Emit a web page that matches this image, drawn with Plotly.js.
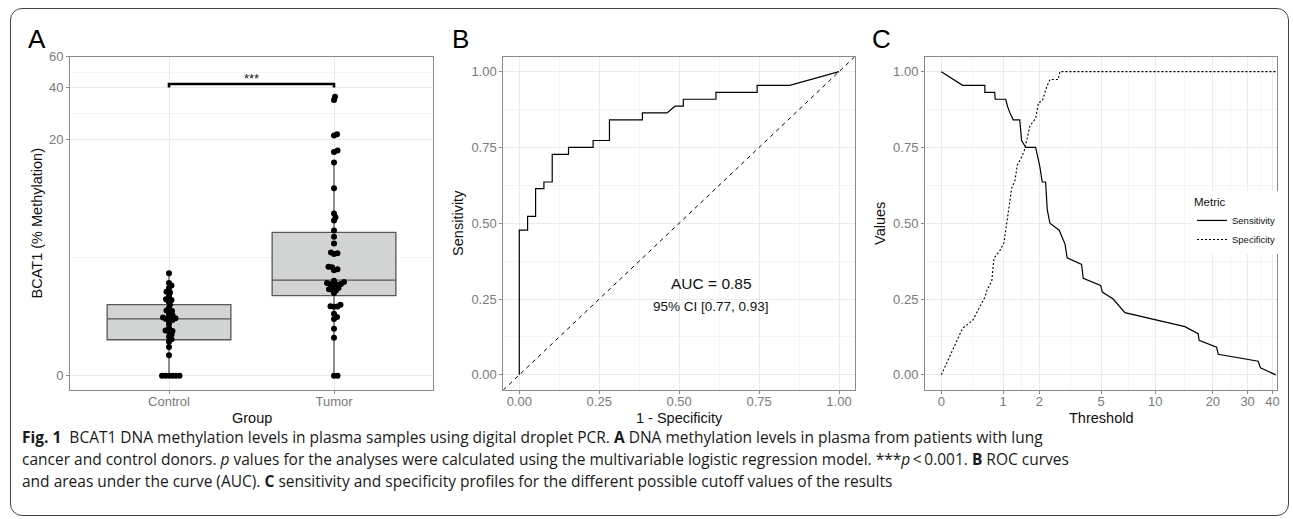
<!DOCTYPE html>
<html><head><meta charset="utf-8">
<script src="https://cdn.plot.ly/plotly-3.0.1.min.js"></script>
<style>
html,body{margin:0;padding:0;background:#fff;}
#wrap{position:relative;width:1293px;height:519px;overflow:hidden;}
#chart{position:absolute;left:0;top:0;width:1293px;height:519px;}
#frame{position:absolute;left:10px;top:8px;width:1277px;height:506px;border:1px solid #444;border-radius:12px;pointer-events:none;}
</style></head><body>
<div id="wrap"><div id="chart"></div><div id="frame"></div></div>
<script>
// ---------------- data ----------------
const groups = ['Control', 'Tumor'];
const controlValues = [0, 0, 0, 0, 0, 0, 0.3, 0.45, 0.55, 0.6, 0.65, 0.7, 0.77, 0.78, 0.79, 0.85, 0.95,
  1.04, 1.05, 1.08, 1.1, 1.12, 1.15, 1.18, 1.25, 1.3, 1.32, 1.4, 1.5, 1.6, 1.65, 1.68, 1.8, 1.92, 1.95,
  2.1, 2.2, 2.3, 2.75];
const tumorValues = [0, 0, 0.63, 0.83, 1.08, 1.13, 1.22, 1.43, 1.44, 1.45, 1.5, 1.9, 2.0, 2.02, 2.05, 2.1,
  2.22, 2.24, 2.25, 2.26, 2.3, 2.35, 2.4, 2.9, 2.95, 3.05, 3.08, 3.8, 3.85, 3.9, 4.5, 5.0, 5.5, 6.4, 6.7,
  7.1, 10.2, 14.6, 16.9, 17.2, 21.1, 21.5, 34, 35.5];
const boxQ1 = [0.59, 1.81];
const boxMedian = [1.08, 2.43];
const boxQ3 = [1.50, 5.34];
const boxLowerFence = [0, 0];
const boxUpperFence = [2.75, 14.6];
const methylationTicks = [0, 20, 40, 60];
const bracketLevel = 42;
const bracketDrop = 40;
const significanceLabel = '***';

const rocFpr = [0, 0, 0.026, 0.026, 0.051, 0.051, 0.077, 0.077, 0.103, 0.103, 0.154, 0.154, 0.231, 0.231,
  0.282, 0.282, 0.385, 0.385, 0.462, 0.487, 0.513, 0.513, 0.615, 0.615, 0.744, 0.744, 0.846, 1];
const rocTpr = [0, 0.477, 0.477, 0.523, 0.523, 0.614, 0.614, 0.636, 0.636, 0.727, 0.727, 0.750, 0.750, 0.773,
  0.773, 0.841, 0.841, 0.864, 0.864, 0.886, 0.886, 0.909, 0.909, 0.932, 0.932, 0.955, 0.955, 1];
const aucLabel = 'AUC = 0.85';
const ciLabel = '95% CI [0.77, 0.93]';
const probTicks = [0, 0.25, 0.5, 0.75, 1];

const sensThreshold = [0, 0.27, 0.63, 0.63, 0.82, 0.83, 1.06, 1.10, 1.16, 1.24, 1.41, 1.46, 1.58, 1.88, 1.93,
  2.02, 2.10, 2.22, 2.28, 2.38, 2.75, 3.0, 3.1, 3.82, 3.91, 4.97, 5.08, 5.87, 6.83, 14.35, 16.8, 17.0, 20.9,
  21.3, 33.9, 34.8, 41.5];
const sensValue = [1.0, 0.955, 0.955, 0.932, 0.932, 0.909, 0.909, 0.886, 0.864, 0.841, 0.841, 0.773, 0.75,
  0.75, 0.727, 0.686, 0.636, 0.636, 0.545, 0.50, 0.477, 0.432, 0.386, 0.364, 0.318, 0.295, 0.273, 0.25, 0.205,
  0.159, 0.136, 0.114, 0.091, 0.068, 0.045, 0.023, 0];
const specThreshold = [0, 0.27, 0.42, 0.63, 0.675, 0.76, 0.805, 0.93, 1.02, 1.065, 1.2, 1.285, 1.345, 1.46,
  1.55, 1.70, 1.88, 1.97, 2.11, 2.255, 2.38, 2.71, 2.78, 41.5];
const specValue = [0, 0.154, 0.179, 0.256, 0.282, 0.308, 0.385, 0.410, 0.436, 0.487, 0.615, 0.641, 0.692,
  0.718, 0.744, 0.821, 0.846, 0.897, 0.905, 0.949, 0.974, 0.974, 1.0, 1.0];
const thresholdTicks = [0, 1, 2, 5, 10, 20, 30, 40];

const xTitles = ['Group', '1 - Specificity', 'Threshold'];
const yTitles = ['BCAT1 (% Methylation)', 'Sensitivity', 'Values'];
const panelLabels = ['A', 'B', 'C'];
const captionLines = [
  '<b>Fig. 1</b>\u00A0\u00A0BCAT1 DNA methylation levels in plasma samples using digital droplet PCR. <b>A</b> DNA methylation levels in plasma from patients with lung',
  'cancer and control donors. <i>p</i> values for the analyses were calculated using the multivariable logistic regression model. ***<i>p</i>\u2009&lt;\u20090.001. <b>B</b> ROC curves',
  'and areas under the curve (AUC). <b>C</b> sensitivity and specificity profiles for the different possible cutoff values of the results'
];

// ---------------- helpers ----------------
const W = 1293, H = 519;
const FONT = 'Liberation Sans, Arial, sans-serif';
const tr = v => Math.log10(v + 1);
const mids = a => a.slice(1).map((v, i) => (v + a[i]) / 2);
const dx = (l, r) => [l / W, r / W];
const dy = (t, b) => [1 - b / H, 1 - t / H];

const rangeAx = [0.4, 2.6];
const rangeAy = [-0.080, 1.787];
const rangeProb = [-0.05, 1.05];
const rangeCx = [-0.0793, 1.633];

const domAx = dx(70, 433), domAy = dy(56.5, 390);
const domBx = dx(503.3, 855), domBy = dy(56.5, 390);
const domCx = dx(925, 1276.7), domCy = dy(56.5, 390);

// beeswarm layout in pixel space
const pxPerX = (domAx[1] - domAx[0]) * W / (rangeAx[1] - rangeAx[0]);
const pxPerY = (domAy[1] - domAy[0]) * H / (rangeAy[1] - rangeAy[0]);
function swarm(vals, dmin) {
  const idx = vals.map((v, i) => i).sort((a, b) => vals[a] - vals[b]);
  const placed = [], off = new Array(vals.length);
  for (const i of idx) {
    const y = tr(vals[i]) * pxPerY;
    let best = null;
    for (let k = 0; k < 400 && best === null; k++) {
      const cands = k === 0 ? [0] : [k * 0.5, -k * 0.5];
      for (const c of cands) {
        if (placed.every(p => (p.x - c) ** 2 + (p.y - y) ** 2 >= dmin * dmin)) { best = c; break; }
      }
    }
    off[i] = best / pxPerX;
    placed.push({ x: best, y });
  }
  return off;
}
const ctrlOff = swarm(controlValues, 3.3);
const tumOff = swarm(tumorValues, 3.3);

// ---------------- traces ----------------
const traces = [];
traces.push({
  type: 'box', x: [1, 2], q1: boxQ1.map(tr), median: boxMedian.map(tr), q3: boxQ3.map(tr),
  lowerfence: boxLowerFence.map(tr), upperfence: boxUpperFence.map(tr),
  width: 0.75, whiskerwidth: 0, boxpoints: false, fillcolor: '#D2D3D3',
  line: { color: '#575757', width: 1.3 }, xaxis: 'x', yaxis: 'y', showlegend: false, hoverinfo: 'skip'
});
traces.push({
  type: 'scatter', mode: 'markers', xaxis: 'x', yaxis: 'y', showlegend: false, hoverinfo: 'skip',
  x: controlValues.map((v, i) => 1 + ctrlOff[i]).concat(tumorValues.map((v, i) => 2 + tumOff[i])),
  y: controlValues.map(tr).concat(tumorValues.map(tr)),
  marker: { color: '#000', size: 6, line: { width: 0 } }
});
traces.push({
  type: 'scatter', mode: 'lines', xaxis: 'x', yaxis: 'y', showlegend: false, hoverinfo: 'skip',
  x: [1, 1, 2, 2], y: [bracketDrop, bracketLevel, bracketLevel, bracketDrop].map(tr),
  line: { color: '#000', width: 2.6 }
});
traces.push({
  type: 'scatter', mode: 'lines', xaxis: 'x2', yaxis: 'y2', showlegend: false, hoverinfo: 'skip',
  x: rangeProb, y: rangeProb, line: { color: '#000', width: 1, dash: '4px,4px' }
});
traces.push({
  type: 'scatter', mode: 'lines', xaxis: 'x2', yaxis: 'y2', showlegend: false, hoverinfo: 'skip',
  x: rocFpr, y: rocTpr, line: { color: '#000', width: 1.2 }
});
traces.push({
  type: 'scatter', mode: 'lines', xaxis: 'x3', yaxis: 'y3', name: 'Sensitivity', hoverinfo: 'skip',
  x: sensThreshold.map(tr), y: sensValue, line: { color: '#000', width: 1.2 }
});
traces.push({
  type: 'scatter', mode: 'lines', xaxis: 'x3', yaxis: 'y3', name: 'Specificity', hoverinfo: 'skip',
  x: specThreshold.map(tr), y: specValue, line: { color: '#000', width: 1.1, dash: '2px,2px' }
});

// ---------------- axes ----------------
function ax(extra) {
  const base = {
    showline: true, mirror: true, linecolor: '#8a8a8a', linewidth: 1,
    ticks: 'outside', ticklen: 3, tickcolor: '#8a8a8a', tickwidth: 1,
    showgrid: true, gridcolor: '#EBEBEB', gridwidth: 1, zeroline: false,
    tickfont: { family: FONT, size: 13, color: '#7a7a7a' }, automargin: false, fixedrange: true
  };
  return Object.assign(base, extra);
}
function minor(vals) {
  return { tickmode: 'array', tickvals: vals, showgrid: true, gridcolor: '#F1F1F1', gridwidth: 0.7, ticks: '' };
}
const titleFont = { family: FONT, size: 14.5, color: '#111' };
const yTitle = (t, s) => ({ text: t, font: titleFont, standoff: s });

const layout = {
  width: W, height: H, margin: { l: 0, r: 0, t: 0, b: 0 },
  paper_bgcolor: '#fff', plot_bgcolor: '#fff', showlegend: true,
  xaxis: ax({ domain: domAx, anchor: 'y', range: rangeAx, tickmode: 'array', tickvals: [1, 2], ticktext: groups,
    ticklabelstandoff: -4 }),
  yaxis: ax({ domain: domAy, anchor: 'x', range: rangeAy, tickmode: 'array',
    tickvals: methylationTicks.map(tr), ticktext: methylationTicks.map(String),
    minor: minor(mids(methylationTicks.map(tr))), title: yTitle(yTitles[0], 2) }),
  xaxis2: ax({ domain: domBx, anchor: 'y2', range: rangeProb, tickmode: 'array', tickvals: probTicks,
    ticktext: probTicks.map(v => v.toFixed(2)), minor: minor(mids(probTicks)), ticklabelstandoff: -4 }),
  yaxis2: ax({ domain: domBy, anchor: 'x2', range: rangeProb, tickmode: 'array', tickvals: probTicks,
    ticktext: probTicks.map(v => v.toFixed(2)), minor: minor(mids(probTicks)), title: yTitle(yTitles[1], 4) }),
  xaxis3: ax({ domain: domCx, anchor: 'y3', range: rangeCx, tickmode: 'array',
    tickvals: thresholdTicks.map(tr), ticktext: thresholdTicks.map(String),
    minor: minor(mids(thresholdTicks.map(tr))), ticklabelstandoff: -4 }),
  yaxis3: ax({ domain: domCy, anchor: 'x3', range: rangeProb, tickmode: 'array', tickvals: probTicks,
    ticktext: probTicks.map(v => v.toFixed(2)), minor: minor(mids(probTicks)), title: yTitle(yTitles[2], 4) }),
  legend: {
    x: 1192 / W, y: 1 - 191 / H, xanchor: 'left', yanchor: 'top', bgcolor: '#fff',
    title: { text: 'Metric', font: { family: FONT, size: 11.5, color: '#111' } },
    font: { family: FONT, size: 9.5, color: '#111' }, itemwidth: 30, tracegroupgap: 0
  },
  annotations: [
    { text: significanceLabel, xref: 'x', yref: 'y', x: 1.5, y: tr(bracketLevel), xanchor: 'center',
      yanchor: 'middle', yshift: 5, showarrow: false, font: { family: FONT, size: 13, color: '#222' } },
    { text: aucLabel, xref: 'x2', yref: 'y2', x: 0.6, y: 0.3, showarrow: false,
      font: { family: FONT, size: 15.5, color: '#111' } },
    { text: ciLabel, xref: 'x2', yref: 'y2', x: 0.6, y: 0.225, showarrow: false,
      font: { family: FONT, size: 13.5, color: '#111' } }
  ]
};
// panel letters
[26, 450, 870].forEach((xp, i) => layout.annotations.push({
  text: panelLabels[i], xref: 'paper', yref: 'paper', x: xp / W, y: 1 - 38.5 / H, xanchor: 'left',
  yanchor: 'middle', showarrow: false, font: { family: FONT, size: 26, color: '#000' }
}));
// x-axis titles, centred under each panel
['x domain', 'x2 domain', 'x3 domain'].forEach((ref, i) => layout.annotations.push({
  text: xTitles[i], xref: ref, yref: 'paper', x: 0.5, y: 1 - 417.5 / H, xanchor: 'center', yanchor: 'middle',
  showarrow: false, font: titleFont
}));
const capY = [437, 459, 481];
captionLines.forEach((t, i) => layout.annotations.push({
  text: t, xref: 'paper', yref: 'paper', x: 20 / W, y: 1 - capY[i] / H, xanchor: 'left', yanchor: 'middle',
  align: 'left', showarrow: false, font: { family: '"Open Sans", Lato, sans-serif', size: 15.5, color: '#1a1a1a' }
}));

Plotly.newPlot('chart', traces, layout, { displayModeBar: false, staticPlot: true });
</script>
</body></html>
